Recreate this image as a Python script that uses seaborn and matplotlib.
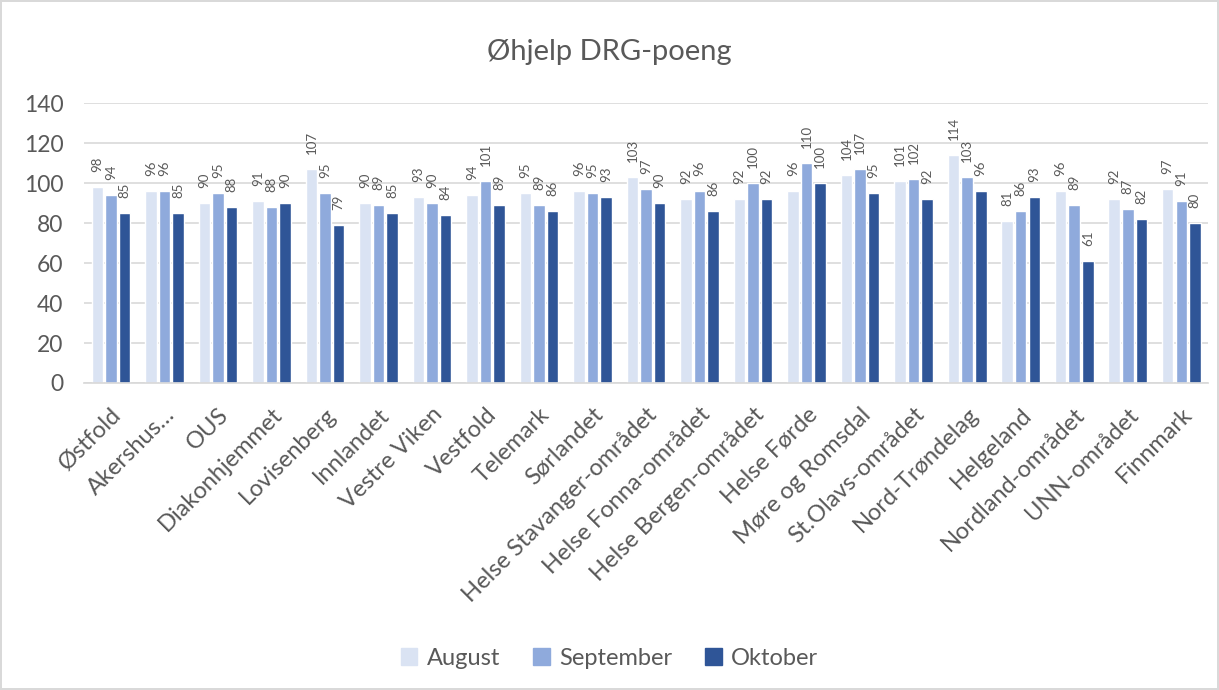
import numpy as np
import pandas as pd
import seaborn as sns
import matplotlib.pyplot as plt

regions = ['Østfold', 'Akershus…', 'OUS', 'Diakonhjemmet', 'Lovisenberg', 'Innlandet',
           'Vestre Viken', 'Vestfold', 'Telemark', 'Sørlandet', 'Helse Stavanger-området',
           'Helse Fonna-området', 'Helse Bergen-området', 'Helse Førde', 'Møre og Romsdal',
           'St.Olavs-området', 'Nord-Trøndelag', 'Helgeland', 'Nordland-området',
           'UNN-området', 'Finnmark']
august = [98, 96, 90, 91, 107, 90, 93, 94, 95, 96, 103, 92, 92, 96, 104, 101, 114, 81, 96, 92, 97]
september = [94, 96, 95, 88, 95, 89, 90, 101, 89, 95, 97, 96, 100, 110, 107, 102, 103, 86, 89, 87, 91]
oktober = [85, 85, 88, 90, 79, 85, 84, 89, 86, 93, 90, 86, 92, 100, 95, 92, 96, 93, 61, 82, 80]
months = ['August', 'September', 'Oktober']
colors = ['#DAE3F3', '#8FAADC', '#2F5597']

df = pd.DataFrame({'region': regions * 3,
                   'month': np.repeat(months, len(regions)),
                   'value': august + september + oktober})

sns.set_theme(style='white')
plt.rcParams['font.family'] = ['Lato', 'DejaVu Sans']
text_col = '#595959'

fig = plt.figure(figsize=(12.19, 6.9), dpi=100)
fig.patch.set_edgecolor('#d9d9d9')
fig.patch.set_linewidth(1.5)
ax = fig.add_axes([0.069, 0.445, 0.922, 0.405])

sns.barplot(data=df, x='region', y='value', hue='month', palette=colors,
            width=0.76, gap=0.15, ax=ax, saturation=1, legend=True)

# rotated value labels above each bar
for cont in ax.containers:
    ax.bar_label(cont, rotation=90, padding=11, fontsize=9.5, color=text_col)

ax.set_ylim(0, 140)
ax.set_yticks(range(0, 141, 20))
ax.yaxis.grid(True, color='#d9d9d9', linewidth=1.2)
ax.set_axisbelow(True)
ax.set_xlim(-0.5, len(regions) - 0.5)
for s in ['top', 'right', 'left']:
    ax.spines[s].set_visible(False)
ax.spines['bottom'].set_color('#d9d9d9')
ax.set_xlabel('')
ax.set_ylabel('')
ax.tick_params(axis='y', labelsize=16.5, colors=text_col, length=0, pad=15)
ax.tick_params(axis='x', labelsize=17, colors=text_col, length=0, pad=15)
plt.setp(ax.get_xticklabels(), rotation=45, ha='right', va='top', rotation_mode='anchor')

fig.text(0.5, 0.925, 'Øhjelp DRG-poeng', ha='center', va='center', fontsize=21, color=text_col)

ax.get_legend().remove()
handles = [plt.Rectangle((0, 0), 1, 1, color=c) for c in colors]
fig.legend(handles, months, loc='center', bbox_to_anchor=(0.5, 0.046), ncol=3,
           frameon=False, fontsize=17, handlelength=0.7, handleheight=0.7,
           columnspacing=1.4, handletextpad=0.4, labelcolor=text_col)

fig.savefig('out.png', dpi=100)
